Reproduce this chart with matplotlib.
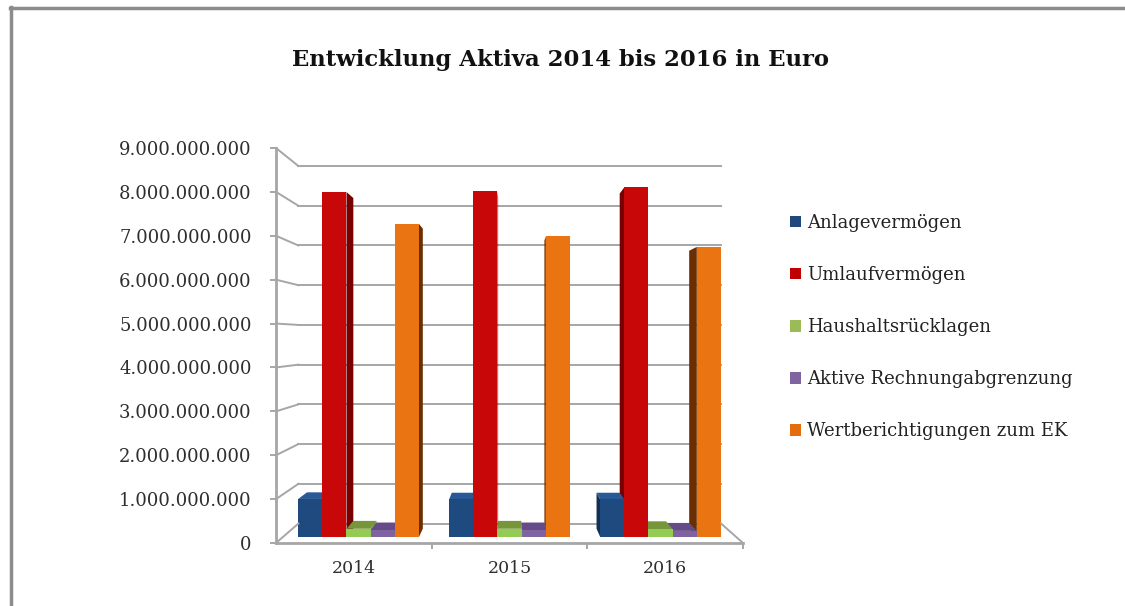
import matplotlib
matplotlib.use("Agg")
import matplotlib.pyplot as plt
import numpy as np
from matplotlib.transforms import Affine2D, IdentityTransform
from matplotlib.patches import Polygon
from matplotlib.lines import Line2D
from matplotlib.ticker import FuncFormatter, FixedLocator

# ---------------- data ----------------
years = ["2014", "2015", "2016"]
series_names = ["Anlagevermögen", "Umlaufvermögen", "Haushaltsrücklagen",
                "Aktive Rechnungabgrenzung", "Wertberichtigungen zum EK"]
anlagevermoegen = [0.89e9, 0.88e9, 0.88e9]
umlaufvermoegen = [8.10e9, 8.12e9, 8.21e9]
haushaltsruecklagen = [0.19e9, 0.19e9, 0.18e9]
rechnungsabgrenzung = [0.15e9, 0.15e9, 0.14e9]
wertberichtigungen = [7.35e9, 7.06e9, 6.81e9]
y_ticks = [0, 1e9, 2e9, 3e9, 4e9, 5e9, 6e9, 7e9, 8e9, 9e9]
title = "Entwicklung Aktiva 2014 bis 2016 in Euro"

series_values = [anlagevermoegen, umlaufvermoegen, haushaltsruecklagen,
                 rechnungsabgrenzung, wertberichtigungen]
front_colors = ["#1F4A80", "#C80808", "#92CC55", "#8064A2", "#EA7412"]
side_colors = ["#132F55", "#780000", "#6A8F33", "#5A4480", "#6A2E00"]
top_colors = ["#2A5A95", "#A00000", "#77963C", "#654C88", "#C25E08"]
legend_colors = ["#1F497D", "#C00000", "#9BBB59", "#8064A2", "#E46C0A"]

# ---------------- figure ----------------
W, H = 1125, 606
fig = plt.figure(figsize=(W / 100, H / 100), dpi=100)
fig.patch.set_facecolor("white")
SERIF = ["DejaVu Serif"]

# outer frame of the chart area (left and top)
fig.add_artist(Line2D([10.5, 10.5], [0, H - 7], transform=IdentityTransform(),
                      color="#8C8C8C", lw=2.5))
fig.add_artist(Line2D([10, W], [H - 7.5, H - 7.5], transform=IdentityTransform(),
                      color="#8C8C8C", lw=2.5))

ax = fig.add_axes([276 / W, (H - 543) / H, (743 - 276) / W, (543 - 148) / H])
ax.set_xlim(-0.5, 2.5)
ax.set_ylim(0, 9e9)
ax.set_facecolor("none")
for s in ("top", "right"):
    ax.spines[s].set_visible(False)
for s in ("left", "bottom"):
    ax.spines[s].set_color("#A6A6A6")
    ax.spines[s].set_linewidth(2)

# perspective helpers (scaling toward a vanishing point in display pixels)
VX, VY = 512.0, H - 338.0
D_WALL = 0.095
D_BAR = 0.03
D_DEPTH = 0.04


def depth_tf(d):
    return Affine2D().translate(-VX, -VY).scale(1 - d).translate(VX, VY)


grid_col = "#A6A6A6"
# back wall gridlines + connectors from the front axis
for v in y_ticks:
    ax.plot([-0.5, 2.5], [v, v], transform=ax.transData + depth_tf(D_WALL),
            color=grid_col, lw=1.4, clip_on=False, zorder=0.5)
    p0 = ax.transData.transform((-0.5, v))
    p1 = depth_tf(D_WALL).transform(p0)
    fig.add_artist(Line2D([p0[0], p1[0]], [p0[1], p1[1]], transform=IdentityTransform(),
                          color=grid_col, lw=1.4, zorder=0.5))
# right floor edge
p0 = ax.transData.transform((2.5, 0))
p1 = depth_tf(D_WALL).transform(p0)
fig.add_artist(Line2D([p0[0], p1[0]], [p0[1], p1[1]], transform=IdentityTransform(),
                      color=grid_col, lw=1.4, zorder=0.5))

# ticks
ax.yaxis.set_major_locator(FixedLocator(y_ticks))
ax.yaxis.set_major_formatter(FuncFormatter(lambda v, p: f"{int(round(v)):,}".replace(",", ".")))
ax.tick_params(axis="y", length=4.5, width=1.4, color=grid_col, pad=13,
               labelsize=13, labelcolor="#2E2E2E")
for lab in ax.get_yticklabels():
    lab.set_family(SERIF)
ax.set_xticks([0, 1, 2])
ax.set_xticklabels(years, family=SERIF, fontsize=12.5, color="#2E2E2E")
ax.set_xticks([0.5, 1.5, 2.5], minor=True)
ax.tick_params(axis="x", which="major", length=0, pad=12)
ax.tick_params(axis="x", which="minor", length=4.5, width=1.4, color=grid_col)

# bars
n = len(series_values)
bw = 0.16
xs = np.arange(len(years))
bar_tf = ax.transData + depth_tf(D_BAR)
back_tf = ax.transData + depth_tf(D_BAR + D_DEPTH)
for j, vals in enumerate(series_values):
    offs = (j - (n - 1) / 2) * bw
    cont = ax.bar(xs + offs, vals, width=bw, color=front_colors[j], linewidth=0,
                  transform=bar_tf, label=series_names[j])
    for rect in cont.patches:
        x0 = rect.get_x()
        x1 = x0 + rect.get_width()
        v = rect.get_height()
        pts = np.array([[x0, 0], [x1, 0], [x1, v], [x0, v]])
        f = bar_tf.transform(pts)
        b = back_tf.transform(pts)
        # paint order: bars farther from the vanishing point first
        cx = (f[0, 0] + f[1, 0]) / 2
        z = 10 - abs(cx - VX) / 100.0
        rect.set_zorder(z)
        faces = []
        if VX > f[1, 0]:
            faces.append(([f[1], f[2], b[2], b[1]], side_colors[j]))
        if VX < f[0, 0]:
            faces.append(([f[0], f[3], b[3], b[0]], side_colors[j]))
        if VY > f[2, 1]:
            faces.append(([f[3], f[2], b[2], b[3]], top_colors[j]))
        for poly, col in faces:
            ax.add_patch(Polygon(poly, closed=True, transform=IdentityTransform(),
                                 facecolor=col, edgecolor="none", zorder=z - 0.01,
                                 clip_on=False))

ax.set_xlim(-0.5, 2.5)
ax.set_ylim(0, 9e9)

# legend
leg_handles = [plt.Rectangle((0, 0), 1, 1, facecolor=c, edgecolor="none") for c in legend_colors]
leg = fig.legend(leg_handles, series_names, loc="upper left",
                 bbox_to_anchor=(790 / W, 1 - 214 / H), frameon=False,
                 prop={"family": SERIF, "size": 13}, handlelength=0.6, handleheight=0.6,
                 handletextpad=0.35, labelspacing=1.89, borderaxespad=0, borderpad=0)
for t in leg.get_texts():
    t.set_color("#222222")

fig.text(560 / W, 1 - 60 / H, title, ha="center", va="center", family=SERIF,
         fontsize=16.4, fontweight="bold", color="#111111")

fig.savefig("out.png", dpi=100)
